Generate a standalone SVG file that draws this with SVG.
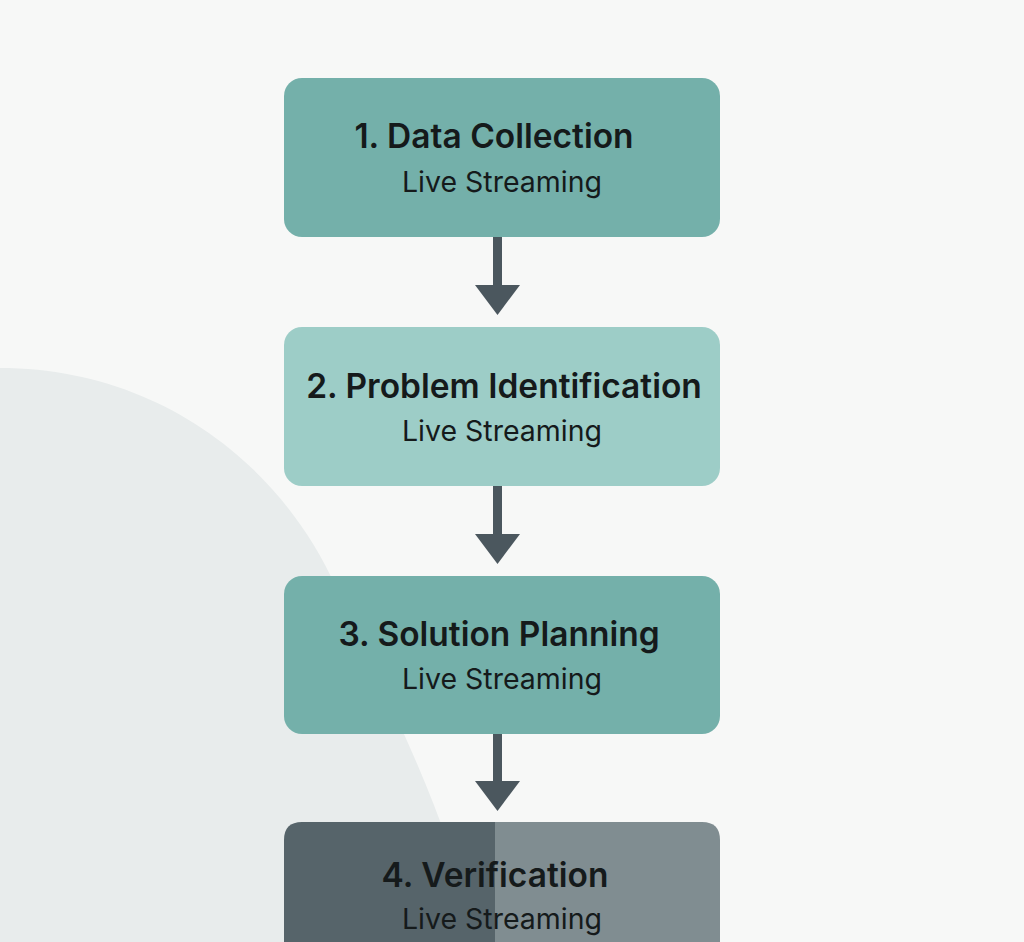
<svg xmlns="http://www.w3.org/2000/svg" width="1024" height="942" viewBox="0 0 1024 942">
<defs>
<style>
.t{font-family:Inter,"Open Sans","Liberation Sans",sans-serif;font-size:33.5px;font-weight:600;fill:#151a1b;text-anchor:middle}
.s{font-family:Inter,"Open Sans","Liberation Sans",sans-serif;font-size:28.5px;font-weight:400;fill:#151a1b;text-anchor:middle}
.shaft{fill:#4b575e}
</style>
</defs>
<rect width="1024" height="942" fill="#f7f8f7"/>
<path d="M0,368 C150,368 275,455 335,585 C395,715 445,810 478,942 L0,942 Z" fill="#e8ecec"/>
<g id="connectors" class="shaft">
<rect x="493" y="237" width="9" height="52"/>
<path d="M475,285 L520,285 L497.5,315 Z"/>
<rect x="493" y="486" width="9" height="52"/>
<path d="M475,534 L520,534 L497.5,564 Z"/>
<rect x="493" y="734" width="9" height="50"/>
<path d="M475,781 L520,781 L497.5,811 Z"/>
</g>
<g id="node1">
<rect x="284" y="78" width="436" height="159" rx="18" fill="#74b0aa"/>
<text class="t" x="494" y="148">1. Data Collection</text>
<text class="s" x="502" y="192">Live Streaming</text>
</g>
<g id="node2">
<rect x="284" y="327" width="436" height="159" rx="18" fill="#9dcdc7"/>
<text class="t" x="504" y="398">2. Problem Identification</text>
<text class="s" x="502" y="441">Live Streaming</text>
</g>
<g id="node3">
<rect x="284" y="576" width="436" height="158" rx="18" fill="#74b0aa"/>
<text class="t" x="499" y="646">3. Solution Planning</text>
<text class="s" x="502" y="689">Live Streaming</text>
</g>
<g id="node4">
<path d="M302,822 L495,822 L495,942 L284,942 L284,840 Q284,822 302,822 Z" fill="#56646a"/>
<path d="M495,822 L702,822 Q720,822 720,840 L720,942 L495,942 Z" fill="#808d91"/>
<text class="t" x="495" y="887">4. Verification</text>
<text class="s" x="502" y="929">Live Streaming</text>
</g>
</svg>
